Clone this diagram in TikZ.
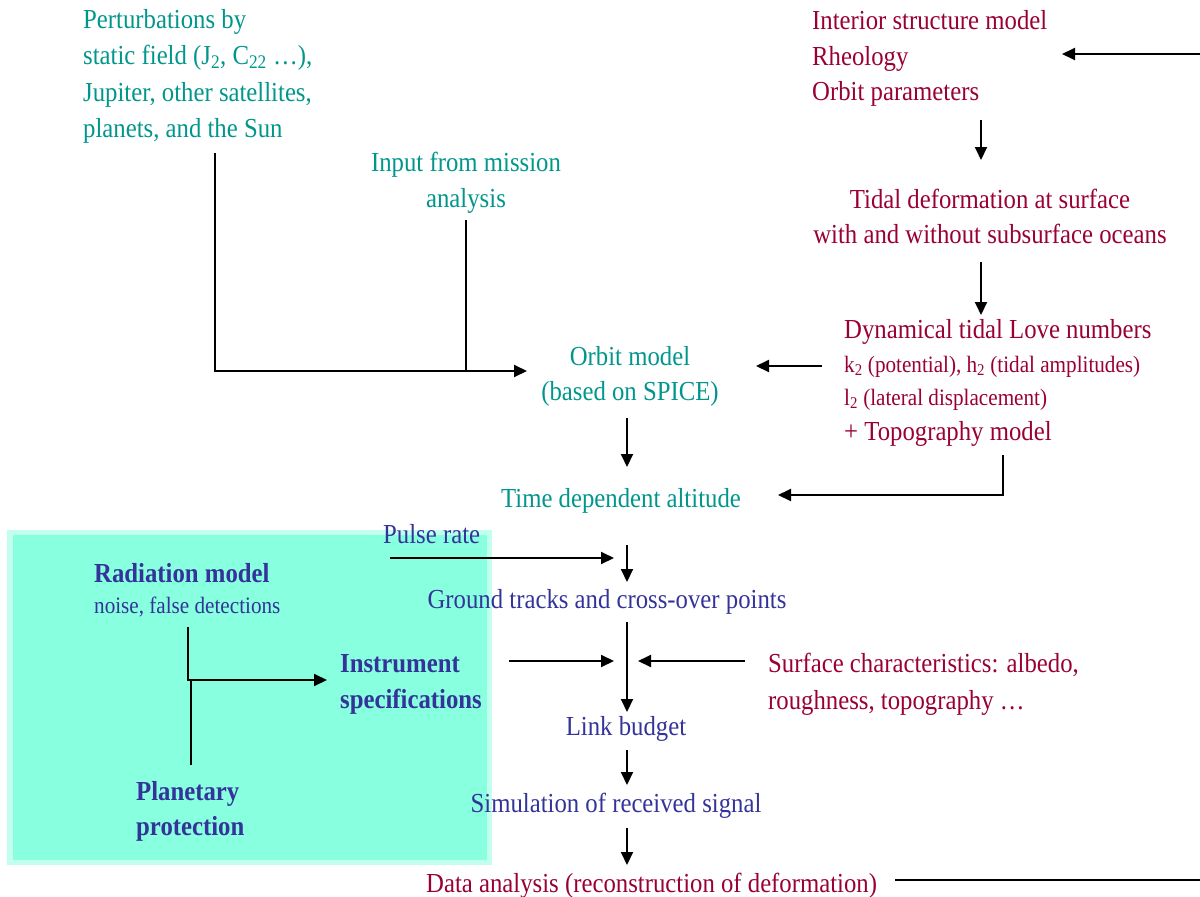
\documentclass[tikz,border=0pt]{standalone}
\usepackage{fontspec}
\setmainfont{Liberation Serif}[FakeStretch=0.9]
\usetikzlibrary{arrows.meta}
\definecolor{tealc}{RGB}{0,150,140}
\definecolor{maroonc}{RGB}{153,0,51}
\definecolor{indigoc}{RGB}{51,51,153}
\definecolor{boxout}{RGB}{195,255,238}
\definecolor{boxin}{RGB}{136,255,222}
\newcommand\bigf{\fontsize{27.5}{36}\selectfont}
\newcommand\smallf{\fontsize{23.5}{30}\selectfont}
\newcommand\RowsL[1]{\begin{tabular}[t]{@{}l@{}}#1\end{tabular}}
\newcommand\RowsC[1]{\begin{tabular}[t]{@{}c@{}}#1\end{tabular}}
\begin{document}
\begin{tikzpicture}[x=1pt,y=-1pt,
  txt/.style={inner sep=0pt, font=\bigf},
  tl/.style={txt, anchor=base west},
  tc/.style={txt, anchor=base},
  arr/.style={draw=black, line width=2pt, -{Triangle[length=13pt,width=12pt]}},
  ln/.style={draw=black, line width=2pt}]
\useasboundingbox (0,0) rectangle (1200,897);

% green box
\fill[boxout] (7,530) rectangle (492,865);
\fill[boxin] (13,535) rectangle (487,860);

% texts
\node[tl, text=tealc] (pert) at (83,28) {\fontsize{27.5}{36.5}\selectfont\RowsL{Perturbations by\\ static field (J\textsubscript{2}, C\textsubscript{22} …),\\ Jupiter, other satellites,\\ planets, and the Sun}};
\node[tc, text=tealc] (input) at (466,171) {\RowsC{Input from mission\\ analysis}};
\node[tl, text=maroonc] (interior) at (812,29.5) {\fontsize{27.5}{35.5}\selectfont\RowsL{Interior structure model\\ Rheology\\ Orbit parameters}};
\node[tc, text=maroonc] (tidal) at (990,208) {\fontsize{27.5}{35.5}\selectfont\RowsC{Tidal deformation at surface\\ with and without subsurface oceans}};
\node[tl, text=maroonc] (love) at (844,338) {Dynamical tidal Love numbers};
\node[tl, text=maroonc, font=\smallf] (k2) at (844,372) {k\textsubscript{2} (potential), h\textsubscript{2} (tidal amplitudes)};
\node[tl, text=maroonc, font=\smallf] (l2) at (844,405) {l\textsubscript{2} (lateral displacement)};
\node[tl, text=maroonc] (topo) at (844,440) {+ Topography model};
\node[tc, text=tealc] (orbit) at (630,365) {\fontsize{27.5}{35}\selectfont\RowsC{Orbit model\\ (based on SPICE)}};
\node[tc, text=tealc] (alt) at (621,507) {Time dependent altitude};
\node[tl, text=indigoc] (pulse) at (383,543) {Pulse rate};
\node[tc, text=indigoc] (ground) at (607,608) {Ground tracks and cross-over points};
\node[tl, text=indigoc, font=\bfseries\bigf] (rad) at (94,582) {Radiation model};
\node[tl, text=indigoc, font=\smallf] (noise) at (94,613) {noise, false detections};
\node[tl, text=indigoc, font=\bfseries\bigf] (instr) at (340,672) {\RowsL{Instrument\\ specifications}};
\node[tl, text=maroonc] (surf) at (768,672) {\fontsize{27.5}{37}\selectfont\RowsL{Surface characteristics: albedo,\\ roughness, topography …}};
\node[tc, text=indigoc] (link) at (626,735) {Link budget};
\node[tc, text=indigoc] (sim) at (616,812) {Simulation of received signal};
\node[tl, text=indigoc, font=\bfseries\bigf] (plan) at (136,800) {\fontsize{27.5}{35}\selectfont\RowsL{Planetary\\ protection}};
\node[tl, text=maroonc] (data) at (426,892) {Data analysis (reconstruction of deformation)};

% connector end points
\coordinate (topIn) at (1200,54);
\coordinate (topTip) at (1062,54);
\coordinate (intA) at (981,120);
\coordinate (intB) at (981,160);
\coordinate (tidA) at (981,262);
\coordinate (tidB) at (981,315);
\coordinate (loveA) at (822,366);
\coordinate (loveB) at (756,366);
\coordinate (pertA) at (215,153);
\coordinate (pertC) at (215,371);
\coordinate (orbTip) at (527,371);
\coordinate (inA) at (466,220);
\coordinate (inB) at (466,371);
\coordinate (orbA) at (627,418);
\coordinate (orbB) at (627,467);
\coordinate (topoA) at (1003,455);
\coordinate (topoC) at (1003,495);
\coordinate (altTip) at (778,495);
\coordinate (pulA) at (390,558);
\coordinate (pulB) at (614,558);
\coordinate (altA) at (627,545);
\coordinate (altB) at (627,582);
\coordinate (radA) at (188,627);
\coordinate (radC) at (188,680);
\coordinate (insTip) at (327,680);
\coordinate (plA) at (191,680);
\coordinate (plB) at (191,765);
\coordinate (insA) at (509,661);
\coordinate (insB) at (614,661);
\coordinate (surA) at (745,661);
\coordinate (surB) at (638,661);
\coordinate (grA) at (627,622);
\coordinate (grB) at (627,712);
\coordinate (lkA) at (627,750);
\coordinate (lkB) at (627,785);
\coordinate (smA) at (627,828);
\coordinate (smB) at (627,865);
\coordinate (dtA) at (895,880);
\coordinate (dtB) at (1200,880);

% connectors
\draw[arr] (topIn) -- (topTip);
\draw[arr] (intA) -- (intB);
\draw[arr] (tidA) -- (tidB);
\draw[arr] (loveA) -- (loveB);
\draw[arr] (pertA) -- (pertC) -- (orbTip);
\draw[ln] (inA) -- (inB);
\draw[arr] (orbA) -- (orbB);
\draw[arr] (topoA) -- (topoC) -- (altTip);
\draw[arr] (pulA) -- (pulB);
\draw[arr] (altA) -- (altB);
\draw[arr] (radA) -- (radC) -- (insTip);
\draw[ln] (plA) -- (plB);
\draw[arr] (insA) -- (insB);
\draw[arr] (surA) -- (surB);
\draw[arr] (grA) -- (grB);
\draw[arr] (lkA) -- (lkB);
\draw[arr] (smA) -- (smB);
\draw[ln] (dtA) -- (dtB);
\end{tikzpicture}
\end{document}
